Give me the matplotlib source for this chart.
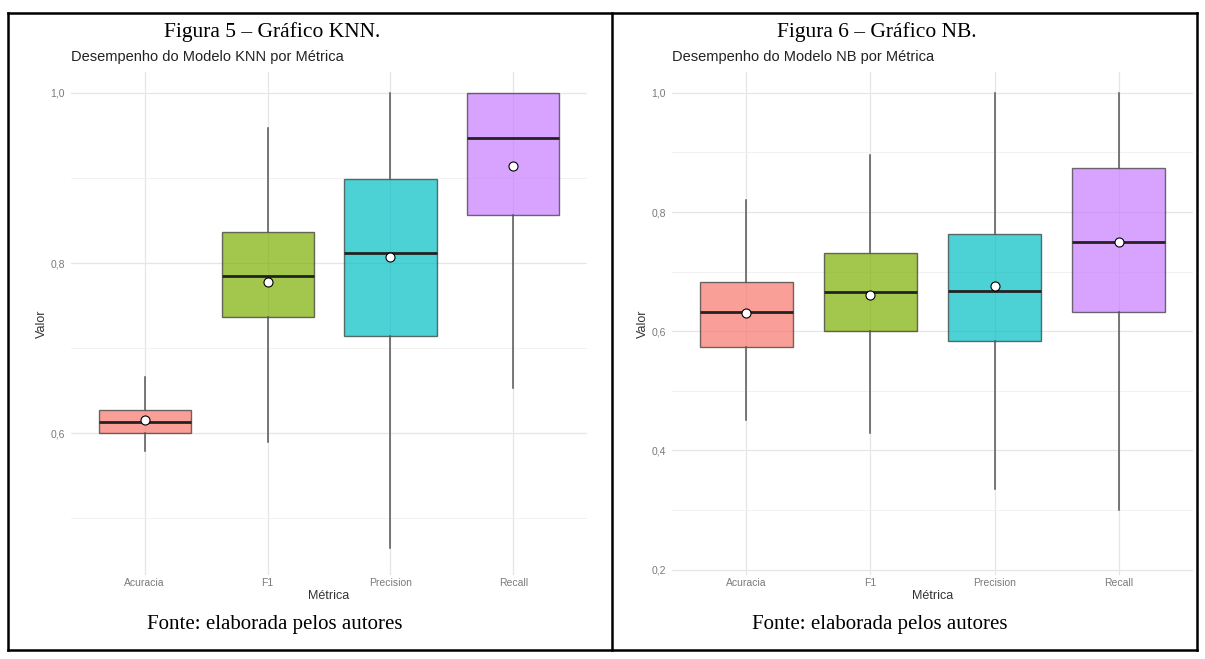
import matplotlib
matplotlib.use("Agg")
import matplotlib.pyplot as plt
from matplotlib.lines import Line2D
from matplotlib.ticker import FixedLocator, FuncFormatter

categories = ["Acuracia", "F1", "Precision", "Recall"]
colors = ["#F8766D", "#7CAE00", "#00BFC4", "#C77CFF"]

knn_q1 = [0.600, 0.736, 0.714, 0.856]
knn_med = [0.613, 0.785, 0.812, 0.947]
knn_q3 = [0.627, 0.836, 0.899, 1.000]
knn_lo = [0.579, 0.589, 0.465, 0.653]
knn_hi = [0.666, 0.959, 1.000, 1.000]
knn_mean = [0.615, 0.778, 0.807, 0.914]

nb_q1 = [0.574, 0.601, 0.584, 0.633]
nb_med = [0.633, 0.666, 0.668, 0.750]
nb_q3 = [0.683, 0.732, 0.763, 0.874]
nb_lo = [0.451, 0.430, 0.336, 0.300]
nb_hi = [0.820, 0.896, 1.000, 1.000]
nb_mean = [0.631, 0.661, 0.676, 0.750]

knn_major = [0.6, 0.8, 1.0]
knn_minor = [0.5, 0.7, 0.9]
nb_major = [0.2, 0.4, 0.6, 0.8, 1.0]
nb_minor = [0.3, 0.5, 0.7, 0.9]

W, H = 1205, 659
fig = plt.figure(figsize=(W / 100, H / 100), dpi=100)
fig.patch.set_facecolor("white")

def fx(x):
    return x / W

def fy(y):
    return 1 - y / H

# table borders
lw = 1.8
for (x0, y0, x1, y1) in [(8, 13, 1197, 13), (8, 650, 1197, 650), (8, 13, 8, 650),
                         (1197, 13, 1197, 650), (612, 13, 612, 650)]:
    fig.add_artist(Line2D([fx(x0), fx(x1)], [fy(y0), fy(y1)], color="black", lw=lw))

serif = ["Liberation Serif", "DejaVu Serif"]
sans = ["Liberation Sans", "DejaVu Sans"]

def comma(v, pos=None):
    return f"{v:.1f}".replace(".", ",")

def panel(left, right, ylim, q1, med, q3, lo, hi, mean, major, minor,
          subtitle, fig_title, title_x):
    top, bottom = 72, 575
    ax = fig.add_axes([fx(left), fy(bottom), fx(right - left), (bottom - top) / H])
    ax.set_facecolor("white")
    stats = []
    for i, c in enumerate(categories):
        stats.append(dict(label=c, q1=q1[i], med=med[i], q3=q3[i],
                          whislo=lo[i], whishi=hi[i], mean=mean[i], fliers=[]))
    bp = ax.bxp(stats, positions=range(1, len(categories) + 1), widths=0.75,
                patch_artist=True, showcaps=False, showmeans=True, showfliers=False,
                boxprops=dict(edgecolor="#3a3a3a", linewidth=1.0),
                whiskerprops=dict(color="#555555", linewidth=1.1),
                medianprops=dict(color="#222222", linewidth=2.0),
                meanprops=dict(marker="o", markerfacecolor="white",
                               markeredgecolor="black", markersize=6.5,
                               markeredgewidth=0.8),
                zorder=3)
    for patch, col in zip(bp["boxes"], colors):
        patch.set_facecolor(col)
        patch.set_alpha(0.7)
        patch.set_edgecolor((0.2, 0.2, 0.2, 0.9))
    ax.set_xlim(0.4, 4.6)
    ax.set_ylim(*ylim)
    ax.yaxis.set_major_locator(FixedLocator(major))
    ax.yaxis.set_minor_locator(FixedLocator(minor))
    ax.yaxis.set_major_formatter(FuncFormatter(comma))
    ax.set_xticks(range(1, len(categories) + 1))
    ax.set_xticklabels(categories)
    ax.grid(True, which="major", color="#e6e6e6", linewidth=0.9, zorder=0)
    ax.grid(True, which="minor", axis="y", color="#f0f0f0", linewidth=0.6, zorder=0)
    ax.set_axisbelow(True)
    for s in ax.spines.values():
        s.set_visible(False)
    ax.tick_params(axis="both", which="both", length=0, labelsize=7.5, labelcolor="#7a7a7a")
    ax.tick_params(axis="y", pad=4.5)
    ax.tick_params(axis="x", pad=2.5)
    for t in ax.get_xticklabels() + ax.get_yticklabels():
        t.set_family(sans)
    ax.set_xlabel("Métrica", fontsize=9, family=sans, color="#333333", labelpad=1)
    ax.set_ylabel("Valor", fontsize=9, family=sans, color="#333333", labelpad=1.5)
    fig.text(fx(left), fy(57), subtitle, fontsize=10.5, family=sans, color="#222222",
             ha="left", va="center")
    fig.text(fx(title_x), fy(32), fig_title, fontsize=15.5, family=serif, color="black",
             ha="center", va="center")
    fig.text(fx(title_x + 3), fy(624), "Fonte: elaborada pelos autores", fontsize=15,
             family=serif, color="black", ha="center", va="center")
    return ax

panel(71, 587, (0.433, 1.0247), knn_q1, knn_med, knn_q3, knn_lo, knn_hi, knn_mean,
      knn_major, knn_minor, "Desempenho do Modelo KNN por Métrica",
      "Figura 5 – Gráfico KNN.", 272)
panel(672, 1193, (0.191, 1.035), nb_q1, nb_med, nb_q3, nb_lo, nb_hi, nb_mean,
      nb_major, nb_minor, "Desempenho do Modelo NB por Métrica",
      "Figura 6 – Gráfico NB.", 877)

fig.savefig("out.png", dpi=100, facecolor="white")
